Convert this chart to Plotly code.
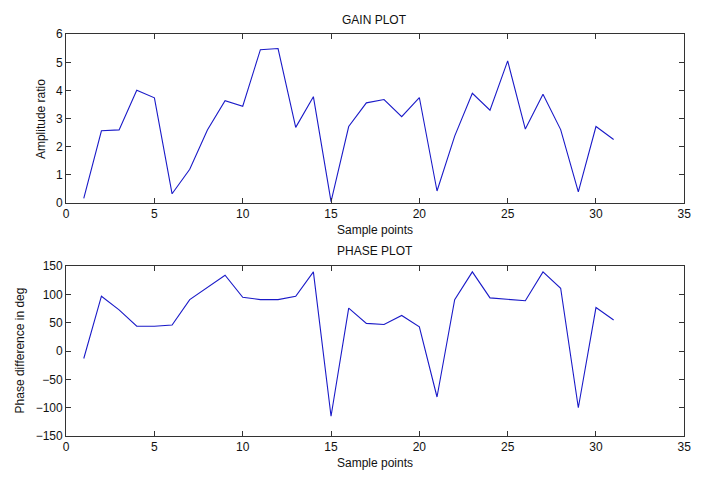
import plotly.graph_objects as go

W, H = 712, 479

samples = list(range(1, 32))
gain = [0.17, 2.57, 2.6, 4.01, 3.74, 0.33, 1.2, 2.6, 3.64, 3.44, 5.45, 5.49, 2.69, 3.78, 0.05,
        2.72, 3.56, 3.68, 3.07, 3.75, 0.43, 2.38, 3.9, 3.3, 5.05, 2.63, 3.87, 2.61, 0.4, 2.72, 2.26]
phase = [-13, 97, 73, 44, 44, 46, 91, 112, 134, 95, 91, 91, 97, 140, -115,
         76, 49, 47, 63, 43, -81, 91, 140, 94, 91, 89, 140, 111, -100, 77, 55]

x_ticks = [0, 5, 10, 15, 20, 25, 30, 35]
gain_ticks = [0, 1, 2, 3, 4, 5, 6]
phase_ticks = [-150, -100, -50, 0, 50, 100, 150]

def px_x(p):
    return p / W

def px_y(p):
    return 1 - p / H

line_color = "#1a1ac8"
axis_color = "#333333"
font = dict(family="Liberation Sans, Arial, sans-serif", size=12, color="#111111")

fig = go.Figure()
fig.add_trace(go.Scatter(x=samples, y=gain, mode="lines", line=dict(color=line_color, width=1.1),
                         xaxis="x", yaxis="y", showlegend=False))
fig.add_trace(go.Scatter(x=samples, y=phase, mode="lines", line=dict(color=line_color, width=1.1),
                         xaxis="x2", yaxis="y2", showlegend=False))

common = dict(showline=True, linecolor=axis_color, linewidth=1, mirror="ticks", ticks="inside",
              ticklen=5, tickcolor=axis_color, showgrid=False, zeroline=False,
              tickfont=font)

xd = [px_x(64), px_x(691)]
fig.update_layout(
    width=W, height=H, margin=dict(l=0, r=0, t=0, b=0),
    paper_bgcolor="white", plot_bgcolor="white", font=font,
    xaxis=dict(domain=xd, range=[0, 35], tickvals=x_ticks, anchor="y", **common),
    yaxis=dict(domain=[px_y(202), px_y(28)], range=[0, 6], tickvals=gain_ticks, anchor="x", **common),
    xaxis2=dict(domain=xd, range=[0, 35], tickvals=x_ticks, anchor="y2", **common),
    yaxis2=dict(domain=[px_y(442), px_y(267)], range=[-150, 150], tickvals=phase_ticks, anchor="x2", **common),
)

ann = [
    ("GAIN PLOT", 377, 13, 0),
    ("Sample points", 377, 230, 0),
    ("PHASE PLOT", 377, 251, 0),
    ("Sample points", 377, 470, 0),
    ("Amplitude ratio", 38, 115, -90),
    ("Phase difference in deg", 17, 354, -90),
]
for text, x, y, ang in ann:
    fig.add_annotation(text=text, x=px_x(x), y=px_y(y), xref="paper", yref="paper",
                       showarrow=False, textangle=ang, font=font, xanchor="center", yanchor="middle")

fig.write_html("out.html")
